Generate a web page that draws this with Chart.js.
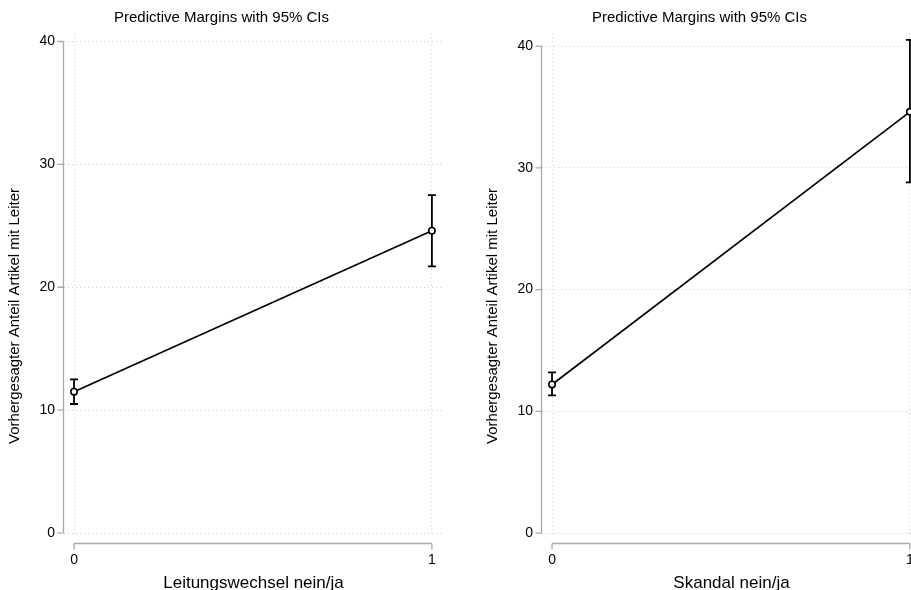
<!DOCTYPE html>
<html lang="de">
  <head>
    <meta charset="UTF-8" />
    <title>Predictive Margins with 95% CIs</title>
    <script src="https://cdn.jsdelivr.net/npm/chart.js@4.4.1/dist/chart.umd.min.js"></script>
    <style>
      html,
      body {
        margin: 0;
        padding: 0;
        background: #fff;
      }
      body {
        width: 911px;
        height: 590px;
        overflow: hidden;
        position: relative;
      }
      .panel {
        position: absolute;
        top: 0;
        width: 455px;
        height: 590px;
      }
      #panel-left {
        left: 0;
      }
      #panel-right {
        left: 478px;
      }
    </style>
  </head>
  <body>
    <div class="panel" id="panel-left">
      <canvas id="chart-leitung" width="455" height="590"></canvas>
    </div>
    <div class="panel" id="panel-right">
      <canvas id="chart-skandal" width="455" height="590"></canvas>
    </div>
    <script>
      // tick values
      const xTicks = [0, 1];
      const yTicks = [0, 10, 20, 30, 40];

      // Leitungswechsel nein/ja
      const leitungMargin = [11.5, 24.6];
      const leitungLower = [10.5, 21.7];
      const leitungUpper = [12.5, 27.5];

      // Skandal nein/ja
      const skandalMargin = [12.2, 34.6];
      const skandalLower = [11.3, 28.8];
      const skandalUpper = [13.2, 40.5];

      const plotTitle = "Predictive Margins with 95% CIs";
      const yLabel = "Vorhergesagter Anteil Artikel mit Leiter";

      const family = "'Liberation Sans', Arial, sans-serif";
      const axisColor = "#a9a9a9";
      const gridColor = "#cdcdcd";

      // stata-like axes, CI bars and y title
      const stataPlugin = {
        id: "stata",
        beforeDatasetsDraw(chart, args, opts) {
          const { ctx, chartArea } = chart;
          const x = chart.scales.x;
          const y = chart.scales.y;
          ctx.save();

          ctx.strokeStyle = axisColor;
          ctx.lineWidth = 1.3;
          ctx.beginPath();
          const ax = chartArea.left - 0.5;
          ctx.moveTo(ax, y.getPixelForValue(yTicks[0]));
          ctx.lineTo(ax, y.getPixelForValue(yTicks[yTicks.length - 1]));
          yTicks.forEach((v) => {
            const py = y.getPixelForValue(v);
            ctx.moveTo(ax - 6, py);
            ctx.lineTo(ax, py);
          });
          const ay = chartArea.bottom + 8.5;
          ctx.moveTo(x.getPixelForValue(xTicks[0]), ay);
          ctx.lineTo(x.getPixelForValue(xTicks[xTicks.length - 1]), ay);
          xTicks.forEach((v) => {
            const px = x.getPixelForValue(v);
            ctx.moveTo(px, ay);
            ctx.lineTo(px, ay + 6);
          });
          ctx.stroke();

          ctx.strokeStyle = "#000";
          ctx.lineWidth = 1.8;
          ctx.beginPath();
          opts.lower.forEach((lo, i) => {
            const px = x.getPixelForValue(xTicks[i]);
            const p1 = y.getPixelForValue(lo);
            const p2 = y.getPixelForValue(opts.upper[i]);
            ctx.moveTo(px, p1);
            ctx.lineTo(px, p2);
            ctx.moveTo(px - 4, p1);
            ctx.lineTo(px + 4, p1);
            ctx.moveTo(px - 4, p2);
            ctx.lineTo(px + 4, p2);
          });
          ctx.stroke();
          ctx.restore();
        },
        afterDraw(chart) {
          const { ctx, chartArea } = chart;
          ctx.save();
          ctx.fillStyle = "#000";
          ctx.font = "15px " + family;
          ctx.textAlign = "center";
          ctx.textBaseline = "middle";
          ctx.translate(15, (chartArea.top + chartArea.bottom) / 2 + 32);
          ctx.rotate(-Math.PI / 2);
          ctx.fillText(yLabel, 0, 0);
          ctx.restore();
        },
      };

      function makeChart(id, xLabel, margin, lower, upper, yMax) {
        const ctx = document.getElementById(id).getContext("2d");
        return new Chart(ctx, {
          type: "line",
          data: {
            datasets: [
              {
                data: margin.map((v, i) => ({ x: xTicks[i], y: v })),
                borderColor: "#000",
                borderWidth: 1.6,
                pointRadius: 3.2,
                pointBorderWidth: 1.6,
                pointBorderColor: "#000",
                pointBackgroundColor: "#fff",
                tension: 0,
              },
            ],
          },
          options: {
            responsive: false,
            animation: false,
            layout: { padding: { left: 0, right: 12, top: 0, bottom: 0 } },
            plugins: {
              legend: { display: false },
              tooltip: { enabled: false },
              title: {
                display: true,
                text: plotTitle,
                color: "#000",
                font: { size: 15, family: family, weight: "normal" },
                padding: { top: 9, bottom: 6 },
              },
              stata: { lower: lower, upper: upper },
            },
            scales: {
              x: {
                type: "linear",
                min: -0.028,
                max: 1.031,
                afterBuildTicks: (s) => {
                  s.ticks = xTicks.map((v) => ({ value: v }));
                },
                afterFit: (s) => {
                  s.height = 55;
                },
                grid: { color: gridColor, lineWidth: 1, drawTicks: false },
                border: { display: false, dash: [1, 3] },
                ticks: {
                  padding: 17,
                  color: "#000",
                  autoSkip: false,
                  maxRotation: 0,
                  font: { size: 14, family: family },
                },
                title: {
                  display: true,
                  text: xLabel,
                  color: "#000",
                  font: { size: 17, family: family, lineHeight: 0.76 },
                  padding: { top: 0, bottom: 0 },
                },
              },
              y: {
                type: "linear",
                min: -0.16,
                max: yMax,
                afterBuildTicks: (s) => {
                  s.ticks = yTicks.map((v) => ({ value: v }));
                },
                afterFit: (s) => {
                  s.width = 64;
                },
                grid: {
                  color: gridColor,
                  lineWidth: 1,
                  tickLength: 7,
                  tickColor: "rgba(0,0,0,0)",
                },
                border: { display: false, dash: [1, 3] },
                ticks: {
                  padding: 2,
                  color: "#000",
                  font: { size: 14, family: family },
                },
              },
            },
          },
          plugins: [stataPlugin],
        });
      }

      makeChart("chart-leitung", "Leitungswechsel nein/ja", leitungMargin, leitungLower, leitungUpper, 40.69);
      makeChart("chart-skandal", "Skandal nein/ja", skandalMargin, skandalLower, skandalUpper, 41.07);
    </script>
  </body>
</html>
